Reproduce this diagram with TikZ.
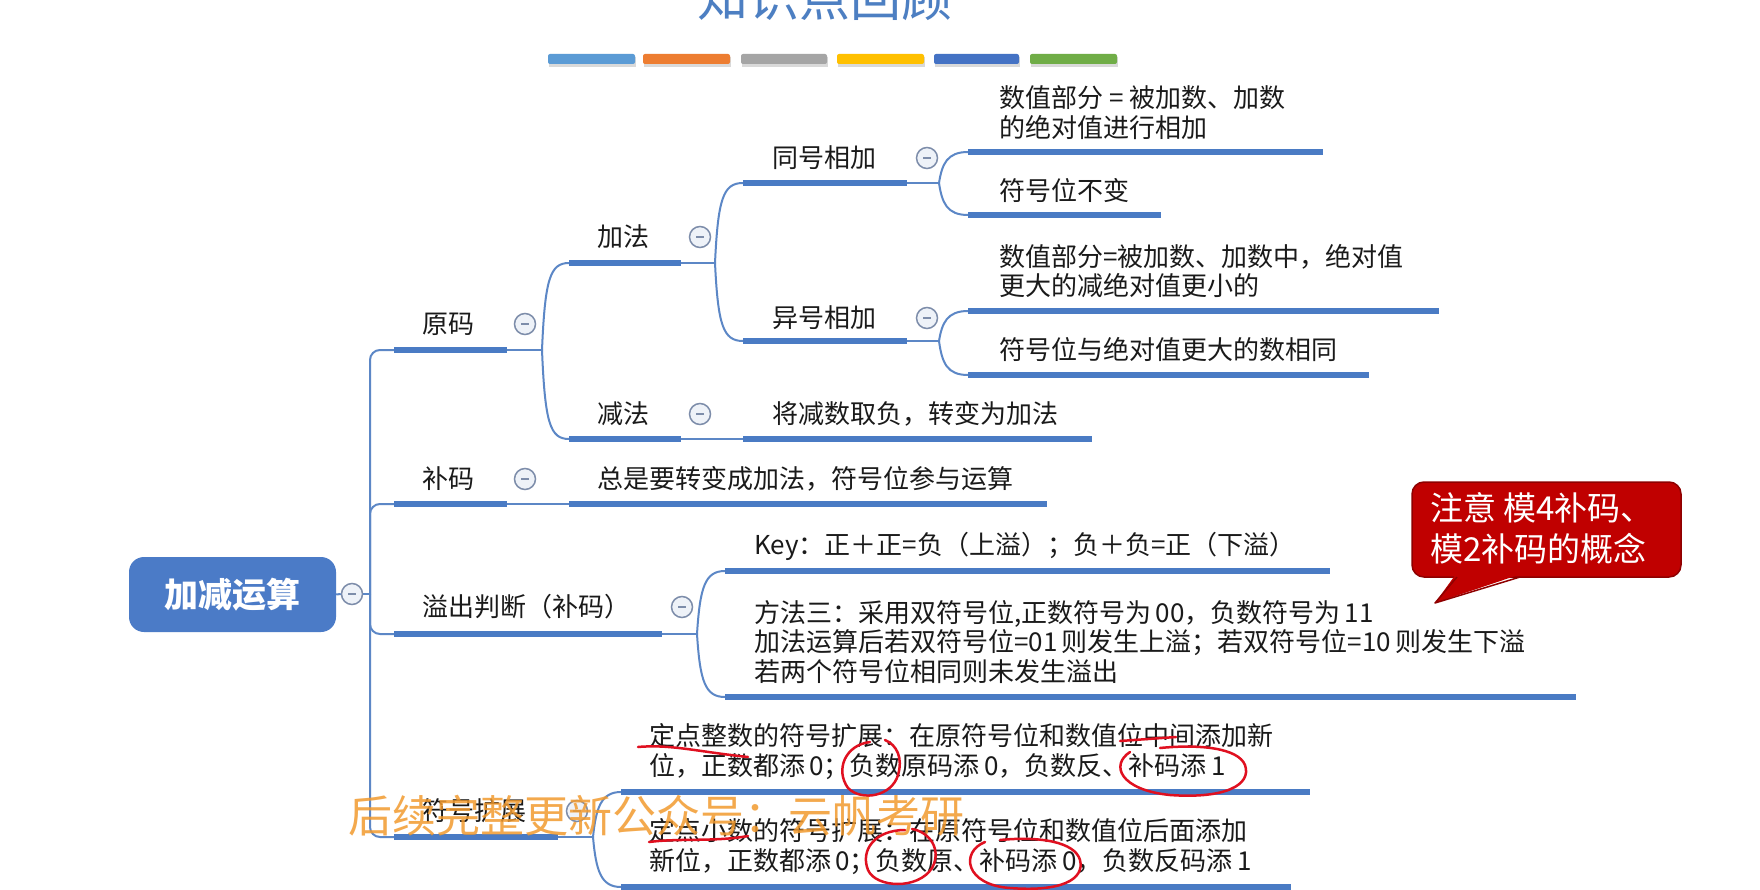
\documentclass[tikz,border=0pt]{standalone}
\usepackage{fontspec}
\usetikzlibrary{calc}
\setmainfont{Noto Sans CJK SC}
\definecolor{barblue}{HTML}{4A7BC4}
\definecolor{lineblue}{HTML}{5C87C6}
\definecolor{textdark}{HTML}{1A1A1A}
\definecolor{foldgray}{HTML}{7D8DAA}
\definecolor{foldfill}{HTML}{EEF2F8}
\definecolor{rootblue}{HTML}{4B7BC7}
\definecolor{calred}{HTML}{C00000}
\definecolor{calborder}{HTML}{8E0000}
\definecolor{titleblue}{HTML}{4D7FC2}
\definecolor{wmorange}{HTML}{F29A2E}
\definecolor{penred}{HTML}{E01020}
\definecolor{cA}{HTML}{5B9BD5}
\definecolor{cB}{HTML}{ED7D31}
\definecolor{cC}{HTML}{A5A5A5}
\definecolor{cD}{HTML}{FFC000}
\definecolor{cE}{HTML}{4472C4}
\definecolor{cF}{HTML}{70AD47}
% curved branch from junction #1 to child bar start #2; #3 = +16 for upward child, -16 for downward child
\newcommand\mybranch[3]{\draw[conn] (#1) .. controls ($(#1|-#2)+(3,#3)$) and ($(#1|-#2)+(8,0)$) .. (#2);}
\begin{document}
\begin{tikzpicture}[x=1pt,y=-1pt,
  bar/.style={line width=6pt, draw=barblue},
  conn/.style={line width=2pt, draw=lineblue},
  txt/.style={anchor=west, inner sep=0pt, font=\fontsize{26}{29.5}\selectfont, text=textdark, align=left},
  fold/.style={circle, draw=foldgray, fill=foldfill, line width=1.5pt, minimum size=21pt, inner sep=0pt,
    path picture={\draw[foldgray,line width=1.5pt] ([xshift=-4pt]path picture bounding box.center) -- ([xshift=4pt]path picture bounding box.center);}},
  deco/.style={rounded corners=2pt},
  pen/.style={draw=penred, line width=2.5pt, line cap=round},
]
\useasboundingbox (0,0) rectangle (1760,890);
\clip (0,0) rectangle (1760,890);
\fill[white] (0,0) rectangle (1760,890);

% title and colour bars
\node[font=\fontsize{51}{51}\selectfont, text=titleblue, inner sep=0pt] (title) at (825,-3) {知识点回顾};
\fill[black!15] (549,57) rectangle (636,67);
\fill[black!15] (644,57) rectangle (731,67);
\fill[black!15] (742,57) rectangle (828,67);
\fill[black!15] (838,57) rectangle (925,67);
\fill[black!15] (935,57) rectangle (1020,67);
\fill[black!15] (1031,57) rectangle (1118,67);
\fill[cA, deco] (548,54) rectangle (635,64);
\fill[cB, deco] (643,54) rectangle (730,64);
\fill[cC, deco] (741,54) rectangle (827,64);
\fill[cD, deco] (837,54) rectangle (924,64);
\fill[cE, deco] (934,54) rectangle (1019,64);
\fill[cF, deco] (1030,54) rectangle (1117,64);

% root
\node[fill=rootblue, rounded corners=15pt, minimum width=207pt, minimum height=75pt, inner sep=0pt,
  text=white, font=\fontsize{34}{34}\selectfont\bfseries] (root) at (232.5,594.5) {加减运算};
\node[fold] (rootfold) at (352,594) {};
\coordinate (trunk) at (370,594);
\draw[conn] (root.east) -- (rootfold.west);
\draw[conn] (rootfold.east) -- (trunk);

% level 1 bars
\coordinate (yuanA) at (394,350); \coordinate (yuanB) at (507,350);
\coordinate (buA) at (394,504); \coordinate (buB) at (507,504);
\coordinate (yiA) at (394,634); \coordinate (yiB) at (662,634);
\coordinate (fhA) at (394,837); \coordinate (fhB) at (558,837);
\draw[conn, rounded corners=10pt] (trunk) |- (yuanA);
\draw[conn, rounded corners=10pt] (trunk) |- (buA);
\draw[conn, rounded corners=10pt] (trunk) |- (yiA);
\draw[conn, rounded corners=10pt] (trunk) |- (fhA);
\draw[bar] (yuanA) -- (yuanB);
\draw[bar] (buA) -- (buB);
\draw[bar] (yiA) -- (yiB);
\draw[bar] (fhA) -- (fhB);
\node[txt] (yuan) at (422,324) {原码};
\node[txt] (bu) at (422,479) {补码};
\node[txt] (yichu) at (422,607) {溢出判断（补码）};
\node[txt] (fuhao) at (422,811) {符号扩展};
\node[fold] (yuanfold) at (525,324) {};
\node[fold] (bufold) at (525,479) {};
\node[fold] (yifold) at (682,607) {};
\node[fold] (fhfold) at (577,811) {};

% 原码 children
\coordinate (yuanJ) at (542,350);
\coordinate (jiaA) at (569,263); \coordinate (jiaB) at (681,263);
\coordinate (jianA) at (569,439); \coordinate (jianB) at (681,439);
\draw[conn] (yuanB) -- (yuanJ);
\mybranch{yuanJ}{jiaA}{16}
\mybranch{yuanJ}{jianA}{-16}
\draw[bar] (jiaA) -- (jiaB);
\draw[bar] (jianA) -- (jianB);
\node[txt] (jia) at (597,237) {加法};
\node[txt] (jian) at (597,414) {减法};
\node[fold] (jiafold) at (700,237) {};
\node[fold] (jianfold) at (700,414) {};

% 减法 child
\coordinate (jianCA) at (743,439); \coordinate (jianCB) at (1092,439);
\draw[conn] (jianB) -- (jianCA);
\draw[bar] (jianCA) -- (jianCB);
\node[txt] (jianC) at (772,414) {将减数取负，转变为加法};

% 补码 child
\coordinate (buCA) at (569,504); \coordinate (buCB) at (1047,504);
\draw[conn] (buB) -- (buCA);
\draw[bar] (buCA) -- (buCB);
\node[txt] (buC) at (597,479) {总是要转变成加法，符号位参与运算};

% 加法 children
\coordinate (jiaJ) at (715,263);
\coordinate (tongA) at (743,183); \coordinate (tongB) at (907,183);
\coordinate (yihA) at (743,341); \coordinate (yihB) at (907,341);
\draw[conn] (jiaB) -- (jiaJ);
\mybranch{jiaJ}{tongA}{16}
\mybranch{jiaJ}{yihA}{-16}
\draw[bar] (tongA) -- (tongB);
\draw[bar] (yihA) -- (yihB);
\node[txt] (tong) at (772,158) {同号相加};
\node[txt] (yih) at (772,318) {异号相加};
\node[fold] (tongfold) at (927,158) {};
\node[fold] (yihfold) at (927,318) {};

% 同号相加 children
\coordinate (tongJ) at (939,183);
\coordinate (t1A) at (968,152); \coordinate (t1B) at (1323,152);
\coordinate (t2A) at (968,215); \coordinate (t2B) at (1161,215);
\draw[conn] (tongB) -- (tongJ);
\mybranch{tongJ}{t1A}{12}
\mybranch{tongJ}{t2A}{-12}
\draw[bar] (t1A) -- (t1B);
\draw[bar] (t2A) -- (t2B);
\node[txt] (t1) at (999,112.5) {数值部分 = 被加数、加数\\的绝对值进行相加};
\node[txt] (t2) at (999,191) {符号位不变};

% 异号相加 children
\coordinate (yihJ) at (939,341);
\coordinate (y1A) at (968,311); \coordinate (y1B) at (1439,311);
\coordinate (y2A) at (968,375); \coordinate (y2B) at (1369,375);
\draw[conn] (yihB) -- (yihJ);
\mybranch{yihJ}{y1A}{12}
\mybranch{yihJ}{y2A}{-12}
\draw[bar] (y1A) -- (y1B);
\draw[bar] (y2A) -- (y2B);
\node[txt] (y1) at (999,271) {数值部分=被加数、加数中，绝对值\\更大的减绝对值更小的};
\node[txt] (y2) at (999,350) {符号位与绝对值更大的数相同};

% 溢出判断 children
\coordinate (yiJ) at (697,634);
\coordinate (o1A) at (725,571); \coordinate (o1B) at (1330,571);
\coordinate (o2A) at (725,697); \coordinate (o2B) at (1576,697);
\draw[conn] (yiB) -- (yiJ);
\mybranch{yiJ}{o1A}{16}
\mybranch{yiJ}{o2A}{-16}
\draw[bar] (o1A) -- (o1B);
\draw[bar] (o2A) -- (o2B);
\node[txt] (o1) at (754,546) {Key：正＋正=负（上溢）；负＋负=正（下溢）};
\node[txt] (o2) at (754,642) {方法三：采用双符号位,正数符号为\,00，负数符号为\,11\\加法运算后若双符号位=01\,则发生上溢；若双符号位=10\,则发生下溢\\若两个符号位相同则未发生溢出};

% 符号扩展 children
\coordinate (fhJ) at (593,837);
\coordinate (f1A) at (621,792); \coordinate (f1B) at (1310,792);
\coordinate (f2A) at (621,887); \coordinate (f2B) at (1291,887);
\draw[conn] (fhB) -- (fhJ);
\mybranch{fhJ}{f1A}{16}
\mybranch{fhJ}{f2A}{-16}
\draw[bar] (f1A) -- (f1B);
\draw[bar] (f2A) -- (f2B);
\node[txt] (f1) at (649,751.5) {定点整数的符号扩展：在原符号位和数值位中间添加新\\位，正数都添\,0；负数原码添\,0，负数反、补码添\,1};
\node[txt] (f2) at (649,846.5) {定点小数的符号扩展：在原符号位和数值位后面添加\\新位，正数都添\,0；负数原、补码添\,0，负数反码添\,1};

% callout
\fill[calred, rounded corners=12pt] (1412,482) rectangle (1681,577);
\draw[calborder, line width=1.5pt, rounded corners=12pt] (1412,482) rectangle (1681,577);
\fill[calred] (1456,574) -- (1435,603) -- (1521,574) -- cycle;
\draw[calborder, line width=1.5pt, line join=round] (1457,577) -- (1435,603) -- (1520,577);
\fill[calred] (1458,573) rectangle (1519,576);
\node[anchor=west, inner sep=0pt, text=white, align=left, font=\fontsize{33}{41}\selectfont] (callout) at (1430,528) {注意 模4补码、\\模2补码的概念};

% hand-drawn red marks
\draw[pen] (638,747) .. controls (670,744) and (700,752) .. (748,757);
\draw[pen] (870,742) .. controls (845,745) and (835,770) .. (848,788) .. controls (862,802) and (892,796) .. (898,775) .. controls (903,758) and (897,745) .. (885,740);
\draw[pen] (1120,741) -- (1176,737);
\draw[pen] (1130,752) .. controls (1110,765) and (1120,790) .. (1170,795) .. controls (1225,799) and (1252,785) .. (1245,765) .. controls (1238,748) and (1200,744) .. (1160,748);
\draw[pen] (649,842) .. controls (680,838) and (715,842) .. (748,836);
\draw[pen] (905,830) .. controls (875,830) and (860,850) .. (868,870) .. controls (876,888) and (918,890) .. (932,868) .. controls (942,850) and (930,832) .. (912,829);
\draw[pen] (985,842) .. controls (960,852) and (965,885) .. (1010,888) .. controls (1060,892) and (1085,880) .. (1080,860) .. controls (1075,842) and (1040,836) .. (1000,840);

% watermark
\node[anchor=west, inner sep=0pt, text=wmorange, opacity=0.85, font=\fontsize{44}{44}\selectfont] (wm) at (348,816) {后续完整更新公众号：云帆考研};
\end{tikzpicture}
\end{document}
